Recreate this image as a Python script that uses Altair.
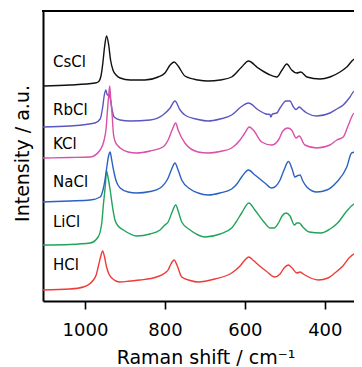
import altair as alt
import pandas as pd

names = ["CsCl", "RbCl", "KCl", "NaCl", "LiCl", "HCl"]
colors = ["#111111", "#5b57c0", "#d94fa9", "#2b62c2", "#21a35b", "#ee3b37"]

# Raman shift (cm^-1) and stacked intensity (a.u.)
cscl_x = [1105, 1038, 975, 967, 960, 955, 951, 946, 941, 936, 930, 922, 912, 887, 850, 817, 800, 787, 777, 767, 750,
          717, 692, 662, 633, 608, 591, 567, 542, 520, 507, 495, 483, 470, 460, 445, 412, 387, 362, 345, 325, 308]
cscl_y = [215, 216, 218, 219, 225, 239, 254, 265, 257, 241, 231, 226, 223, 221, 221, 224, 228, 236, 239, 235, 225,
          221, 220, 221, 224, 234, 240, 233, 227, 224, 231, 237, 231, 228, 229, 224, 222, 224, 229, 234, 242, 239]

rbcl_x = [1105, 1038, 975, 962, 956, 952, 948, 944, 940, 936, 932, 927, 912, 887, 837, 805, 787, 775, 762, 750, 717,
          692, 662, 633, 610, 591, 566, 547, 537, 535, 531, 520, 512, 497, 487, 480, 472, 464, 455, 445, 420, 387,
          370, 354, 337, 326, 308]
rbcl_y = [174, 175, 178, 182, 193, 205, 211, 206, 206.5, 201, 191, 184, 181, 180, 181, 186, 193, 200, 191, 186, 181.5,
          180, 182, 186, 194, 198, 191, 187, 186.5, 184, 187, 188, 193, 200, 200, 195, 191.5, 194, 191, 188, 185, 188,
          192, 196, 204, 210, 203]

kcl_x = [1105, 1038, 987, 962, 952, 947, 944, 941, 938, 936, 932, 929, 925, 917, 912, 892, 871, 837, 805, 792, 782,
         773, 767, 750, 717, 692, 662, 633, 612, 600, 589, 579, 558, 533, 516, 505, 493, 483, 472, 464, 450, 420,
         387, 370, 354, 342, 326, 307]
kcl_y = [143, 143.5, 144, 151, 161, 173, 189, 204, 215, 204, 186, 168, 160, 155, 153, 149, 148, 150, 154, 161, 171,
         178, 171, 158, 149, 148, 149.5, 153, 161, 168, 174, 171, 159, 156, 161, 170, 173, 171, 163, 165, 156, 153,
         156, 161, 164, 175, 188, 171]

nacl_x = [1105, 1038, 987, 962, 955, 950, 945, 941, 937, 934, 930, 927, 922, 912, 892, 871, 837, 812, 792, 782, 775,
          767, 758, 737, 717, 692, 662, 633, 620, 608, 591, 575, 550, 533, 522, 512, 502, 491, 481, 475, 467, 462,
          455, 445, 420, 395, 370, 345, 333, 320, 308]
nacl_y = [99, 100, 101, 104, 111, 121, 135, 145, 149, 143, 134, 128, 120, 113, 109, 108, 109.5, 113, 123, 133, 138,
          131, 121, 112, 108, 106, 108, 112, 117, 124, 131, 126, 118, 113, 115, 121, 131, 139.5, 131, 124, 125.5, 126,
          120, 114, 109, 111, 119, 134, 148, 149, 144]

licl_x = [1105, 1038, 987, 967, 958, 954, 949, 946, 942, 937, 931, 925, 917, 904, 871, 837, 812, 800, 792, 782, 773,
          766, 758, 737, 717, 700, 662, 633, 622, 608, 590, 575, 550, 537, 527, 516, 507, 497, 487, 476, 470, 464,
          455, 439, 410, 387, 368, 343, 327, 314, 307]
licl_y = [56, 56.5, 58, 64, 78, 96, 116, 130, 123, 111, 94, 81, 75, 71, 65, 67, 71, 76, 79, 89, 96,
          89, 79, 71, 66, 64, 67, 73, 79, 88, 98, 91, 78, 73, 73, 78, 85, 88, 85, 76, 78, 78,
          74, 69, 68, 72, 78, 91, 97, 99, 96]

hcl_x = [1105, 1038, 1004, 979, 972, 967, 961, 956, 951, 946, 940, 933, 912, 887, 862, 821, 800, 792, 785, 777, 769,
         758, 737, 717, 675, 633, 612, 600, 590, 580, 566, 547, 525, 512, 502, 491, 482, 470, 462, 450, 416, 392,
         375, 355, 337, 318, 307]
hcl_y = [11, 12, 14, 21, 26, 34, 44, 50, 44, 34, 27, 23, 19, 20, 21, 24, 28, 31, 37, 41, 35,
         24, 20.5, 19, 22, 28, 35, 41, 44, 41, 36, 30, 24, 27, 33, 36, 33, 28, 29, 26, 21, 23,
         28, 35, 44, 48, 46]

series_x = [cscl_x, rbcl_x, kcl_x, nacl_x, licl_x, hcl_x]
series_y = [cscl_y, rbcl_y, kcl_y, nacl_y, licl_y, hcl_y]

label_x = [1080, 1080, 1080, 1080, 1080, 1080]
label_y = [233.7, 186, 151.7, 114.3, 74.3, 31]

x_ticks = [1000, 800, 600, 400]
x_domain = [327, 1105]
y_domain = [0, 290]

frames = {}
for n, xs, ys in zip(names, series_x, series_y):
    frames[n] = pd.DataFrame({"shift": xs, "intensity": ys})
labels_df = pd.DataFrame({"name": names, "shift": label_x, "intensity": label_y})
top_df = pd.DataFrame({"intensity": [y_domain[1]]})

x_scale = alt.Scale(domain=x_domain, reverse=True, nice=False, zero=False)
y_scale = alt.Scale(domain=y_domain, nice=False, zero=False)

x_axis = alt.Axis(values=x_ticks, format="d", tickSize=8, tickWidth=1.6, tickColor="black",
                  domain=True, domainColor="black", domainWidth=2, grid=False,
                  labelFont="DejaVu Sans", labelFontSize=18, labelColor="black",
                  labelPadding=12, labelFlush=False, labelOverlap=False,
                  title="Raman shift / cm⁻¹", titleFont="DejaVu Sans", titleFontSize=19,
                  titleFontWeight="normal", titleColor="black", titleX=162.5, titleY=62,
                  titleBaseline="alphabetic", titleAlign="center")
y_axis = alt.Axis(labels=False, ticks=False, domain=True, domainColor="black", domainWidth=2, grid=False,
                  title="Intensity / a.u.", titleFont="DejaVu Sans", titleFontSize=19,
                  titleFontWeight="normal", titleColor="black", titleAngle=270,
                  titleX=-14.7, titleY=142, titleBaseline="alphabetic", titleAlign="center")

X = alt.X("shift:Q", scale=x_scale, axis=x_axis)
Y = alt.Y("intensity:Q", scale=y_scale, axis=y_axis)

draw_order = ["LiCl", "HCl", "NaCl", "RbCl", "KCl", "CsCl"]
layers = []
for n in draw_order:
    c = colors[names.index(n)]
    layers.append(
        alt.Chart(frames[n]).mark_line(color=c, strokeWidth=1.4, interpolate="monotone", clip=True)
        .encode(x=X, y=Y)
    )

text = alt.Chart(labels_df).mark_text(align="left", baseline="alphabetic", font="DejaVu Sans",
                                      fontSize=15, color="black").encode(x=X, y=Y, text="name:N")

top_line = alt.Chart(top_df).mark_rule(color="black", strokeWidth=2).encode(
    y=Y, x=alt.value(-1), x2=alt.value(400)
)

chart = alt.layer(*layers, text, top_line).properties(
    width=311, height=290,
    autosize=alt.AutoSizeParams(type="none"),
    padding={"left": 35, "top": 3, "right": 0, "bottom": 66},
).configure_view(stroke=None)

chart.save("out.html", embed_options={"renderer": "svg", "actions": False})
